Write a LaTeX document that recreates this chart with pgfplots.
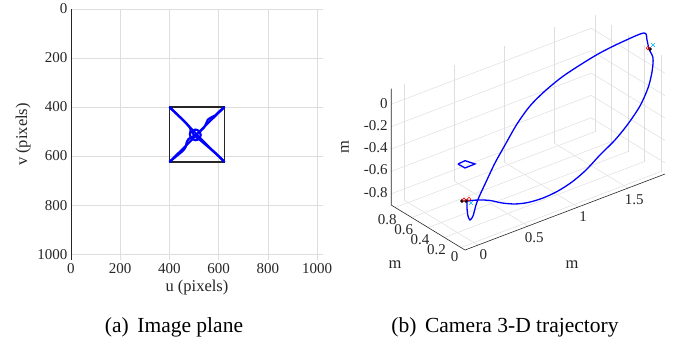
\documentclass[border=0pt]{standalone}
\usepackage{pgfplots}
\pgfplotsset{compat=1.18}
\usepackage{fontspec}
\setmainfont{Liberation Serif}
\definecolor{axgray}{gray}{0.15}
\definecolor{gridgray}{gray}{0.87}
\begin{document}
\begin{tikzpicture}
\useasboundingbox (0,0) rectangle (681pt,344pt);
% ---------------- (a) image plane
\begin{axis}[
 at={(197pt,209.5pt)}, anchor=center,
 scale only axis, width=252pt, height=251pt,
 xmin=0, xmax=1024, ymin=0, ymax=1024, y dir=reverse,
 xtick={0,200,400,600,800,1000}, ytick={0,200,400,600,800,1000},
 grid=major, major grid style={gridgray, line width=0.5pt},
 axis line style={draw=none},
 major tick length=0pt,
 tick label style={font=\fontsize{15}{17}\selectfont, text=axgray},
 label style={font=\fontsize{16.5}{19}\selectfont, text=axgray},
 /pgf/number format/assume math mode=true,
 /pgf/number format/1000 sep={},
 xlabel={u (pixels)}, ylabel={v (pixels)},
]
\draw[axgray, line width=0.6pt] (axis cs:0,0) -- (axis cs:0,1024) -- (axis cs:1024,1024);
\addplot[black!85, line width=1.4pt] coordinates {(400,400)(624,400)(624,624)(400,624)(400,400)};
\addplot[blue, line width=2.2pt, smooth] coordinates {(624,400)(600,420)(585,435)(570,442)(556,452)(549,468)(540,484)(525,498)(508,512)(492,522)(478,530)(470,545)(466,562)(455,578)(430,599)(400,624)};
\addplot[blue, line width=2.2pt] coordinates {(624,400)(560,462)(515,508)(470,555)(400,624)};
\addplot[blue, line width=2.2pt, smooth] coordinates {(400,400)(440,438)(470,468)(486,490)(483,512)(490,528)(505,535)(520,530)(527,514)(520,498)(505,492)(494,500)(500,515)(525,535)(560,565)(600,600)(624,624)};
\addplot[blue, line width=2.2pt] coordinates {(624,624)(560,562)(520,522)(500,500)(460,458)(400,400)};
\end{axis}
\node[font=\fontsize{21.5}{24}\selectfont] at (174pt,17pt) {(a)\hspace{0.4em}Image plane};
% ---------------- (b) 3-D trajectory
\begin{axis}[
 at={(473.9pt,202.2pt)}, anchor=origin,
 x={(100pt,38pt)}, y={(-82pt,50pt)}, z={(0pt,112pt)},
 xmin=-0.13, xmax=1.87, ymin=-0.05, ymax=0.85, zmin=-0.9, zmax=0.14,
 xtick={0,0.5,1,1.5}, ytick={0,0.2,0.4,0.6,0.8}, ztick={-0.8,-0.6,-0.4,-0.2,0},
 grid=major, major grid style={gridgray, line width=0.5pt},
 axis line style={draw=none}, clip=false,
 major tick length=0pt,
 tick label style={font=\fontsize{15}{17}\selectfont, text=axgray},
 /pgf/number format/assume math mode=true,
]
\draw[axgray, line width=0.6pt] (axis cs:1.87,-0.05,-0.9) -- (axis cs:-0.13,-0.05,-0.9) -- (axis cs:-0.13,0.85,-0.9) -- (axis cs:-0.13,0.85,0.14);
\addplot3[blue, line width=1.3pt, smooth] coordinates {
(0.013,0.1,-0.578)(0.013,0.1,-0.640)(0.023,0.1,-0.715)(0.043,0.1,-0.757)(0.073,0.1,-0.732)
(0.103,0.1,-0.644)(0.133,0.1,-0.583)(0.203,0.1,-0.472)(0.293,0.1,-0.333)(0.393,0.1,-0.207)
(0.513,0.1,-0.060)(0.643,0.1,0.057)(0.793,0.1,0.140)(0.963,0.1,0.207)(1.143,0.1,0.253)
(1.343,0.1,0.293)(1.563,0.1,0.316)(1.783,0.1,0.322)(1.813,0.1,0.249)(1.833,0.1,0.162)
(1.873,0.1,0.068)(1.863,0.1,-0.053)(1.823,0.1,-0.183)(1.743,0.1,-0.316)(1.623,0.1,-0.436)
(1.493,0.1,-0.535)(1.343,0.1,-0.618)(1.203,0.1,-0.705)(1.063,0.1,-0.764)(0.923,0.1,-0.797)
(0.773,0.1,-0.809)(0.623,0.1,-0.798)(0.493,0.1,-0.767)(0.363,0.1,-0.714)(0.243,0.1,-0.651)
(0.123,0.1,-0.606)(0.013,0.1,-0.578)};
\addplot3[blue, line width=1.3pt] coordinates {(-0.077,0.1,-0.217)(-0.007,0.1,-0.211)(0.093,0.1,-0.274)(-0.007,0.1,-0.276)(-0.077,0.1,-0.217)};
\addplot3[only marks, mark=x, cyan, mark size=2.5pt] coordinates {(0.053,0.1,-0.609)(1.873,0.1,0.184)};
\addplot3[only marks, mark=*, black, mark size=1.6pt] coordinates {(-0.037,0.1,-0.561)(0.003,0.1,-0.574)(1.843,0.1,0.159)};
\addplot3[only marks, mark=o, red, mark size=1.8pt, line width=0.6pt] coordinates {(-0.017,0.1,-0.558)(0.033,0.1,-0.567)(1.823,0.1,0.174)};
\end{axis}
\node[font=\fontsize{16.5}{19}\selectfont, text=axgray] at (572pt,79pt) {m};
\node[font=\fontsize{16.5}{19}\selectfont, text=axgray] at (395pt,79pt) {m};
\node[font=\fontsize{16.5}{19}\selectfont, text=axgray, rotate=90] at (345pt,197pt) {m};
\node[font=\fontsize{21.5}{24}\selectfont] at (505pt,17pt) {(b)\hspace{0.4em}Camera 3-D trajectory};
\end{tikzpicture}
\end{document}
